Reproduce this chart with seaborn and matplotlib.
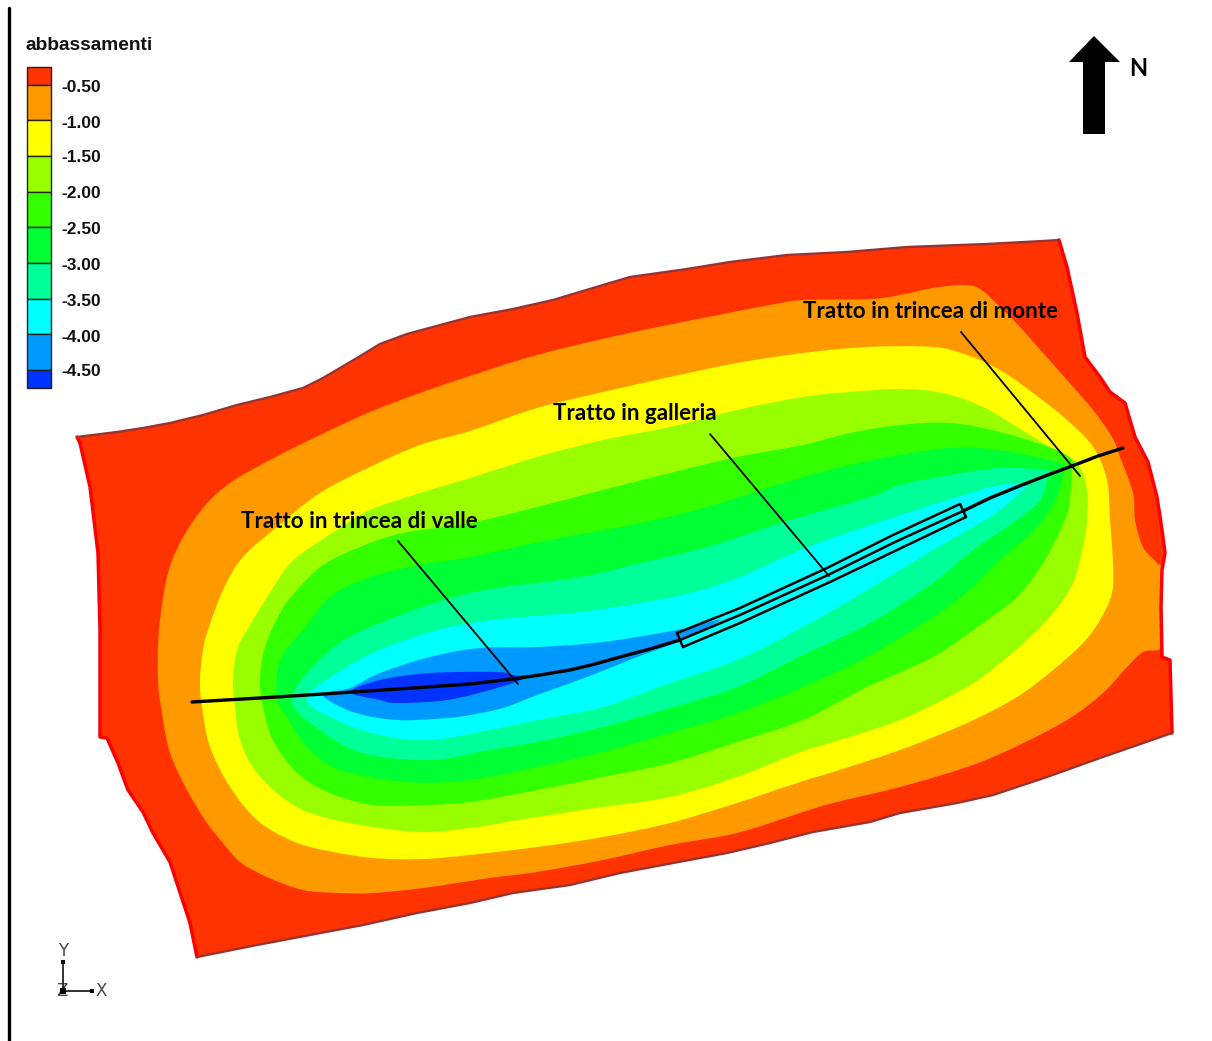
import matplotlib
matplotlib.use("Agg")
import matplotlib.pyplot as plt
from matplotlib.path import Path
from matplotlib.patches import PathPatch
import numpy as np
import pandas as pd
import seaborn as sns

sns.set_theme(style="white")

# ---------- data (image pixel coordinates) ----------
legend_title = "abbassamenti"
legend_labels = ["-0.50", "-1.00", "-1.50", "-2.00", "-2.50", "-3.00", "-3.50", "-4.00", "-4.50"]
legend_colors = ["#FF3300", "#FF9900", "#FFFF00", "#99FF00", "#33FF00",
                 "#00FF33", "#00FF99", "#00FFFF", "#0099FF", "#0033FF"]
legend_edges = [67, 85, 120, 156, 192, 227, 263, 299, 334, 370, 388]
legend_label_y = [87, 123, 158, 194, 230, 265, 301, 337, 372]

domain = [(77,437),(117,432),(143,428),(170,423),(203,415),(237,405),(270,397),(303,388),(323,378),
          (357,358),(380,344),(407,334),(470,317),(513,309),(553,300),(593,288),(630,277),(687,269),
          (730,262),(787,255),(847,252),(907,247),(987,244),(1043,241),(1059,240),(1067,267),(1077,313),
          (1085,357),(1100,377),(1110,392),(1125,403),(1135,437),(1148,462),(1157,497),(1162,530),
          (1165,553),(1162,570),(1161,607),(1162,657),(1170,660),(1172,733),(1100,758),(1047,777),
          (993,795),(957,803),(900,813),(870,822),(813,832),(770,843),(727,853),(673,863),(620,873),
          (570,885),(513,893),(470,903),(417,913),(363,925),(310,935),(257,945),(197,957),(190,923),
          (170,862),(153,833),(143,812),(128,790),(118,763),(107,738),(100,737),(100,680),(100,630),
          (98,553),(90,487),(80,443)]
band_orange = [(158,680),(159,630),(167,577),(180,543),(203,508),(230,483),(270,460),(320,435),(370,412),
               (420,393),(470,376),(537,355),(620,335),(703,318),(770,305),(803,300),(870,299),(900,295),
               (933,288),(963,285),(980,289),(1000,307),(1020,327),(1043,353),(1067,380),(1093,410),
               (1112,437),(1120,457),(1133,493),(1135,520),(1143,547),(1157,563),(1162,570),(1161,607),
               (1162,646),(1143,652),(1127,667),(1103,693),(1067,720),(1013,748),(967,767),(900,787),
               (833,803),(803,812),(737,833),(670,845),(603,860),(537,872),(490,878),(423,888),(373,893),
               (340,893),(303,890),(267,877),(240,862),(223,843),(207,823),(187,790),(170,753),(162,713)]
band_yellow = [(200,680),(203,650),(208,630),(223,590),(243,557),(277,527),(320,493),(370,467),(420,445),
               (470,431),(537,408),(603,392),(670,377),(737,363),(803,353),(867,347),(933,347),(967,355),
               (1000,370),(1033,393),(1067,420),(1093,447),(1107,480),(1110,520),(1113,563),(1112,593),
               (1100,620),(1083,643),(1053,670),(1017,697),(967,723),(900,750),(833,772),(800,782),
               (737,803),(670,823),(603,837),(537,847),(470,855),(423,859),(373,858),(323,850),(290,840),
               (257,820),(230,787),(210,747),(202,707)]
band_yellowgreen = [(233,680),(237,650),(247,630),(278,580),(297,557),(337,530),(370,510),(420,493),(470,478),
                    (537,457),(603,440),(670,427),(737,410),(803,397),(850,392),(900,389),(943,393),(983,407),
                    (1017,427),(1050,447),(1077,463),(1087,490),(1087,520),(1083,547),(1073,583),(1053,613),
                    (1027,640),(1000,663),(967,687),(900,720),(833,742),(800,752),(737,777),(670,797),(603,807),
                    (537,817),(470,828),(423,832),(373,827),(323,817),(290,803),(257,773),(240,740),(235,707)]
band_green = [(260,680),(265,647),(280,613),(297,590),(323,565),(360,547),(403,533),(470,523),(537,507),
              (603,490),(670,473),(737,457),(803,445),(850,433),(900,425),(950,423),(1000,432),(1057,450),
              (1073,462),(1072,470),(1070,497),(1065,520),(1043,563),(1017,597),(983,623),(933,657),(867,687),
              (803,720),(737,742),(670,763),(603,777),(537,790),(470,802),(423,805),(373,805),(330,793),
              (297,773),(273,740),(263,707)]
band_brightgreen = [(277,698),(280,660),(303,630),(330,597),(370,577),(420,565),(470,557),(540,542),(640,523),
                    (707,507),(800,478),(850,465),(900,455),(950,448),(1000,450),(1060,463),(1063,472),
                    (1057,497),(1043,520),(1027,537),(1000,560),(967,592),(933,617),(867,657),(803,687),
                    (737,713),(670,733),(603,752),(537,767),(470,780),(407,782),(340,770),(307,747),(287,717)]
band_seagreen = [(292,698),(330,650),(380,623),(470,593),(580,577),(640,563),(707,547),(790,520),(870,497),
                 (900,485),(950,475),(1000,468),(1047,470),(1048,475),(1040,500),(1017,520),(973,550),
                 (933,583),(870,623),(803,655),(737,687),(670,708),(603,727),(537,742),(490,750),(430,760),
                 (363,753),(320,730)]
band_cyan = [(307,698),(347,667),(397,643),(470,623),(580,612),(640,603),(690,593),(740,577),(813,545),
             (907,513),(967,494),(1000,485),(1025,485),(1023,490),(1000,510),(985,520),(933,550),(867,590),
             (803,627),(737,660),(670,683),(603,707),(537,720),(490,730),(430,740),(380,735),(337,720)]
band_blue = [(323,695),(350,688),(380,673),(430,657),(480,648),(537,647),(603,642),(677,630),(720,620),
             (677,642),(637,657),(587,677),(537,695),(503,708),(470,715),(447,718),(397,720),(353,712)]
band_darkblue = [(350,692),(380,680),(430,673),(497,672),(513,675),(527,677),(497,688),(447,700),(397,703),(380,700)]

bands = [band_orange, band_yellow, band_yellowgreen, band_green,
         band_brightgreen, band_seagreen, band_cyan, band_blue, band_darkblue]

outline_top = domain[:25]
outline_bottom = domain[40:60]
outline_right = domain[24:41]
outline_left = domain[59:] + domain[:1]

alignment_west = [(192,702),(260,698),(323,694),(413,688),(470,684),(513,679),(540,675),(570,670),
                  (595,664),(620,657),(650,649),(680,640)]
alignment_east = [(963,511),(990,498),(1017,487),(1045,476),(1072,466),(1098,456),(1123,448)]
tunnel_upper = [(677,633),(740,608),(827,568),(893,535),(960,504)]
tunnel_middle = [(680,640),(740,615),(828,575),(895,542),(963,511)]
tunnel_lower = [(683,647),(740,623),(830,582),(897,550),(966,517)]
tunnel_west_end = [(677,633),(683,647)]
tunnel_east_end = [(960,504),(966,517)]
leader_valle = [(398,541),(518,684)]
leader_galleria = [(710,434),(829,576)]
leader_monte = [(961,332),(1080,476)]

annotations = ["Tratto in trincea di valle", "Tratto in galleria", "Tratto in trincea di monte"]
annotation_xy = [(241,521), (553,413), (803,312)]

north_arrow = [(1083,134),(1083,62),(1069,62),(1094,36),(1120,62),(1105,62),(1105,134),(1083,134)]
triad_y = [(63,962),(63,991)]
triad_x = [(63,991),(92,991)]
frame_line = [(9,8),(9,1041)]

# ---------- drawing ----------
fig = plt.figure(figsize=(12.12, 10.41), dpi=100, facecolor="white")
ax = fig.add_axes([0, 0, 1, 1])
ax.set_xlim(0, 1212)
ax.set_ylim(1041, 0)
ax.axis("off")


def poly(points, color, **kw):
    ax.fill([p[0] for p in points], [p[1] for p in points], color=color, lw=0, **kw)


def curved_poly(points, color, z=2):
    pts = np.asarray(points, dtype=float)
    n = len(pts)
    verts, codes = [pts[0]], [Path.MOVETO]
    for i in range(n):
        p0, p1, p2, p3 = pts[i - 1], pts[i], pts[(i + 1) % n], pts[(i + 2) % n]
        verts += [p1 + (p2 - p0) / 6, p2 - (p3 - p1) / 6, p2]
        codes += [Path.CURVE4] * 3
    ax.add_patch(PathPatch(Path(verts, codes), facecolor=color, edgecolor="none", lw=0, zorder=z))


def line(points, color="black", lw=1.5, z=5):
    df = pd.DataFrame(points, columns=["x", "y"])
    sns.lineplot(data=df, x="x", y="y", sort=False, estimator=None, color=color,
                 linewidth=lw, ax=ax, zorder=z, legend=False)


poly(domain, legend_colors[0], zorder=2)
for pts, col in zip(bands, legend_colors[1:]):
    curved_poly(pts, col)

line(outline_left, "#FF0000", 2.5, 3)
line(outline_right, "#FF0000", 2.5, 3)
line(outline_top, "#993333", 1.7, 3)
line(outline_bottom, "#993333", 1.7, 3)

for seg in (alignment_west, alignment_east):
    line(seg, "black", 2.4)
for seg in (tunnel_upper, tunnel_middle, tunnel_lower, tunnel_west_end, tunnel_east_end):
    line(seg, "black", 1.8)
for seg in (leader_valle, leader_galleria, leader_monte):
    line(seg, "black", 1.3, 6)

for txt, (x, y) in zip(annotations, annotation_xy):
    ax.text(x, y, txt, family="Lato", fontweight="bold", fontsize=16.1, color="black",
            va="center", ha="left", zorder=7)

# legend
ax.text(25, 46, legend_title, family="Liberation Sans", fontweight="bold", fontsize=13.8,
        color="#111111", va="center", ha="left")
for lo, hi, col in zip(legend_edges[:-1], legend_edges[1:], legend_colors):
    ax.bar(39, hi - lo, width=24, bottom=lo, color=col, edgecolor="#222222", linewidth=1.0, zorder=4)
for lab, y in zip(legend_labels, legend_label_y):
    ax.text(61, y, lab, family="Liberation Sans", fontweight="bold", fontsize=12.5,
            color="#111111", va="center", ha="left")

# north arrow
poly(north_arrow, "black", zorder=4)
ax.text(1129, 68, "N", family="Lato", fontweight="bold", fontsize=17, color="black", va="center", ha="left")

# axis triad
line(triad_y, "#222222", 1.3)
line(triad_x, "#222222", 1.3)
ax.scatter([63, 63, 92], [962, 991, 991], s=[10, 18, 10], marker="s", color="black", zorder=6, linewidths=0)
ax.text(63, 951, "Y", family="DejaVu Sans", fontsize=12, color="#444444", ha="center", va="center")
ax.text(101, 991, "X", family="DejaVu Sans", fontsize=12, color="#444444", ha="center", va="center")
ax.text(62, 991, "Z", family="DejaVu Sans", fontsize=12, color="#444444", ha="center", va="center")

# frame line at left
line(frame_line, "black", 2.4)

ax.set_xlim(0, 1212)
ax.set_ylim(1041, 0)
ax.set_xlabel("")
ax.set_ylabel("")
ax.axis("off")
fig.savefig("out.png", dpi=100, facecolor="white")
